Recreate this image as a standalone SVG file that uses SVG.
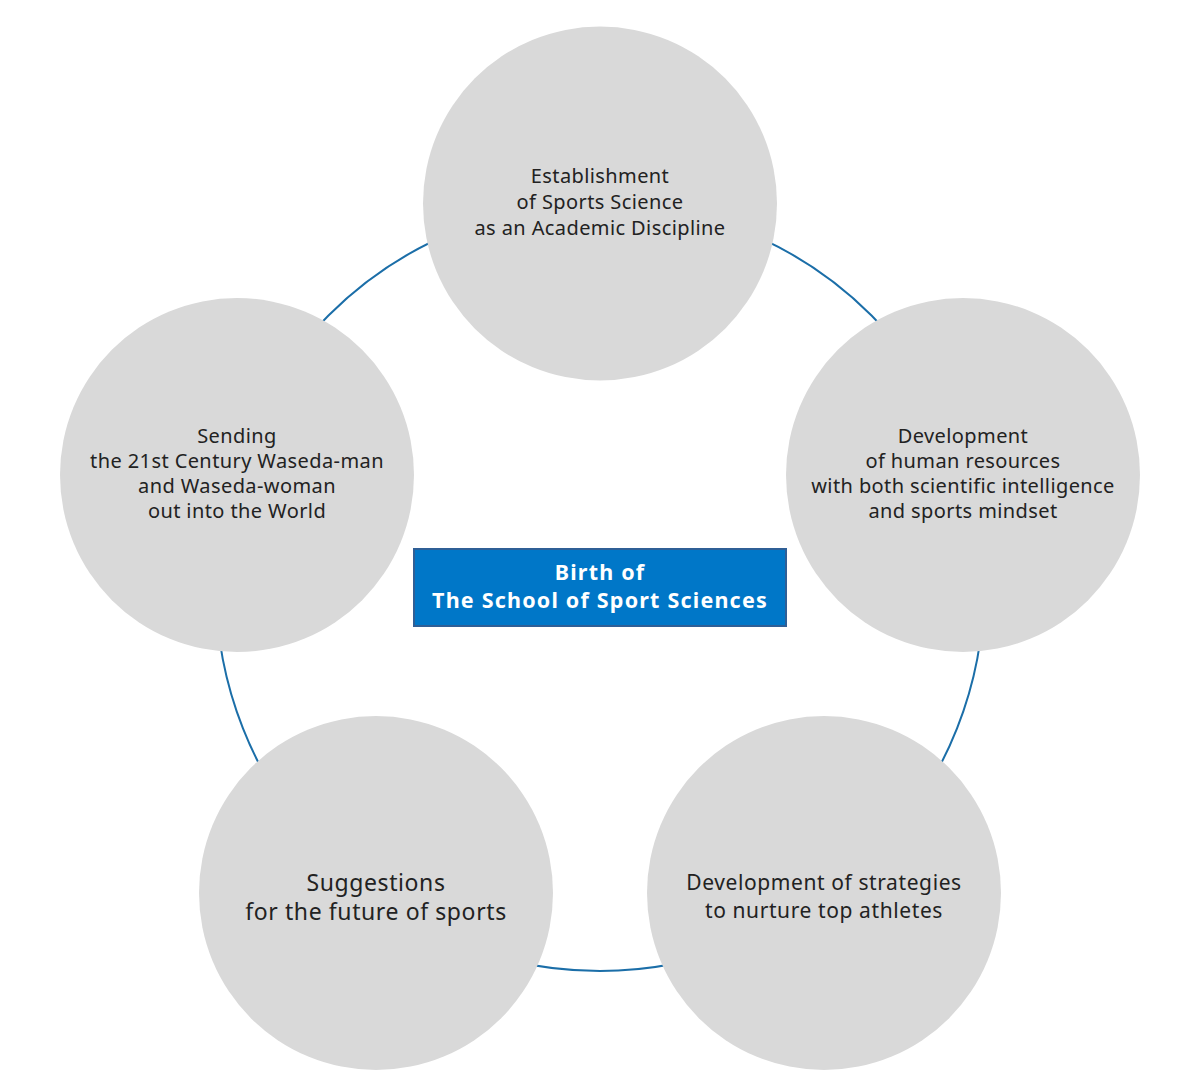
<svg xmlns="http://www.w3.org/2000/svg" width="1195" height="1090" viewBox="0 0 1195 1090">
<style>
.node{fill:#d9d9d9;}
.t{font-family:"Noto Sans","Liberation Sans",sans-serif;font-size:20px;fill:#222;text-anchor:middle;letter-spacing:0.4px;}
.tb{font-size:23px;letter-spacing:0.6px;}
.tm{font-size:21px;letter-spacing:0.6px;}
.ring{fill:none;stroke:#1b6ea8;stroke-width:2;}
.box{fill:#0077c8;stroke:#2f5f96;stroke-width:2;}
.bt{font-family:"Noto Sans","Liberation Sans",sans-serif;font-size:21.5px;font-weight:bold;fill:#fff;text-anchor:middle;letter-spacing:1.2px;}
</style>
<rect width="1195" height="1090" fill="#fff"/>
<g id="connectors">
<circle class="ring" cx="600" cy="587" r="384"/>
</g>
<g id="node-top">
<circle class="node" cx="600" cy="203.5" r="177"/>
<text class="t" x="600" y="183">Establishment</text>
<text class="t" x="600" y="209">of Sports Science</text>
<text class="t" x="600" y="235">as an Academic Discipline</text>
</g>
<g id="node-right">
<circle class="node" cx="963" cy="475" r="177"/>
<text class="t" x="963" y="443">Development</text>
<text class="t" x="963" y="468">of human resources</text>
<text class="t" x="963" y="493">with both scientific intelligence</text>
<text class="t" x="963" y="518">and sports mindset</text>
</g>
<g id="node-bottom-right">
<circle class="node" cx="824" cy="893" r="177"/>
<text class="t tm" x="824" y="890">Development of strategies</text>
<text class="t tm" x="824" y="918">to nurture top athletes</text>
</g>
<g id="node-bottom-left">
<circle class="node" cx="376" cy="893" r="177"/>
<text class="t tb" x="376" y="891">Suggestions</text>
<text class="t tb" x="376" y="920">for the future of sports</text>
</g>
<g id="node-left">
<circle class="node" cx="237" cy="475" r="177"/>
<text class="t" x="237" y="443">Sending</text>
<text class="t" x="237" y="468">the 21st Century Waseda-man</text>
<text class="t" x="237" y="493">and Waseda-woman</text>
<text class="t" x="237" y="518">out into the World</text>
</g>
<g id="node-center">
<rect class="box" x="414" y="549" width="372" height="77"/>
<text class="bt" x="600" y="580">Birth of</text>
<text class="bt" x="600" y="608">The School of Sport Sciences</text>
</g>
</svg>
